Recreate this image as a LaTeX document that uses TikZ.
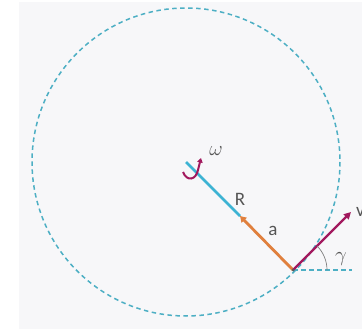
\documentclass[tikz,border=0pt]{standalone}
\usepackage{fontspec}
\setmainfont{Carlito}
\usetikzlibrary{arrows.meta}
\definecolor{bg}{HTML}{F7F7F9}
\definecolor{circ}{HTML}{4DAFC4}
\definecolor{rblue}{HTML}{3DB3D3}
\definecolor{aorange}{HTML}{E0803E}
\definecolor{vpurple}{HTML}{A2195E}
\definecolor{lbl}{HTML}{555555}
\tikzset{
  lab/.style={text=lbl, font=\fontsize{19}{19}\selectfont, inner sep=0pt},
  mlab/.style={text=lbl, font=\fontsize{20}{20}\selectfont, inner sep=0pt},
  dashcirc/.style={circ, line width=1.5pt, dash pattern=on 4.5pt off 3.5pt},
}
\begin{document}
\begin{tikzpicture}[x=1pt,y=-1pt]
\useasboundingbox (0,0) rectangle (362,329);
\fill[bg] (19,2) rectangle (362,329);
\coordinate (O) at (186,162);
\coordinate (P) at (293,270);
\coordinate (M) at (240,216);
\coordinate (V) at (351,212);
\coordinate (H) at (352,270);
\draw[dashcirc] (O) circle (154);
\draw[dashcirc, line width=1.3pt] (P) -- (H);
\draw[rblue, line width=2.8pt] (O) -- (M);
\draw[aorange, line width=2.8pt, -{Triangle[length=6pt,width=7pt]}] (P) -- (M);
\draw[vpurple, line width=2.2pt, -{Triangle[length=7pt,width=7pt]}] (P) -- (V);
\draw[gray, line width=0.7pt] ([shift={(0:34)}]P) arc[start angle=0, end angle=-45, radius=34];
\fill[gray!70!black] (P) circle (1.5);
\draw[vpurple, line width=2pt, -{Triangle[length=4.5pt,width=5.5pt]}]
  (183,172) .. controls (187,182) and (196,180) .. (198,170) -- (201,158);
\node[mlab] (w) at (216,151) {$\omega$};
\node[lab] (R) at (240,199) {R};
\node[lab] (a) at (273,231) {a};
\node[mlab] (g) at (341,259) {$\gamma$};
\node[lab, anchor=west] (v) at (356,212) {v};
\end{tikzpicture}
\end{document}
